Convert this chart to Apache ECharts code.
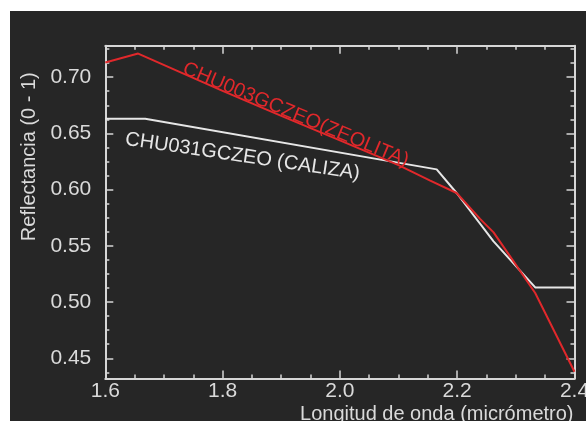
<!DOCTYPE html>
<html><head><meta charset="utf-8">
<script src="https://cdn.jsdelivr.net/npm/echarts@6/dist/echarts.min.js"></script>
<style>
html,body{margin:0;padding:0;background:#ffffff;width:586px;height:421px;overflow:hidden;}
#bg{position:absolute;left:10px;top:11px;width:576px;height:410px;background:#262626;}
#c{position:absolute;left:0;top:0;width:586px;height:421px;}
</style>
</head><body><div id="bg"></div><div id="c"></div>
<script>
// ---- data ----
const xTickValues = [1.6, 1.8, 2.0, 2.2, 2.4];
const yTickValues = [0.45, 0.50, 0.55, 0.60, 0.65, 0.70];
const yMinorTickValues = [0.4375, 0.4625, 0.475, 0.4875, 0.5125, 0.525, 0.5375, 0.5625, 0.575, 0.5875,
  0.6125, 0.625, 0.6375, 0.6625, 0.675, 0.6875, 0.7125, 0.725];

const zeolitaName = 'CHU003GCZEO(ZEOLITA)';
const zeolitaX = [1.600, 1.656, 1.799, 1.898, 1.999, 2.099, 2.154, 2.199, 2.239, 2.262, 2.299, 2.333, 2.400];
const zeolitaY = [0.713, 0.721, 0.688, 0.666, 0.644, 0.622, 0.608, 0.597, 0.574, 0.562, 0.534, 0.508, 0.438];

const calizaName = 'CHU031GCZEO (CALIZA)';
const calizaX = [1.600, 1.668, 2.165, 2.199, 2.262, 2.333, 2.400];
const calizaY = [0.663, 0.663, 0.618, 0.597, 0.554, 0.513, 0.513];

const xTitle = 'Longitud de onda (micrómetro)';
const yTitle = 'Reflectancia (0 - 1)';

// ---- styles ----
const axisColor = '#d6d6d6';
const textColor = '#dadada';
const red = '#e0282b';
const white = '#e6e6e6';
const font = 'Liberation Sans, Arial, sans-serif';
const yMin = 0.432, yMax = 0.728;

function pairs(xs, ys){ return xs.map((x,i)=>[x, ys[i]]); }

const chart = echarts.init(document.getElementById('c'), null, {renderer:'canvas'});

const xCommon = {
  type:'value', min:1.6, max:2.4, interval:0.2,
  axisLine:{show:true, lineStyle:{color:axisColor, width:2}},
  axisTick:{show:true, inside:true, length:8, lineStyle:{color:axisColor, width:1.5}},
  minorTick:{show:true, splitNumber:4, length:4, lineStyle:{color:axisColor, width:1.5}},
  splitLine:{show:false}, minorSplitLine:{show:false}
};
const yCommon = {
  type:'value', min:yMin, max:yMax,
  splitLine:{show:false}
};

chart.setOption({
  backgroundColor:'transparent',
  animation:false,
  grid:{left:105.3, top:45.7, right:11.5, bottom:42.5, containLabel:false, outerBoundsMode:'none'},
  xAxis:[
    Object.assign({}, xCommon, {position:'bottom',
      axisLabel:{show:true, color:textColor, fontSize:21, fontFamily:font, margin:2,
        customValues:xTickValues, formatter:v=>v.toFixed(1)}}),
    Object.assign({}, xCommon, {position:'top', axisLabel:{show:false}})
  ],
  yAxis:[
    Object.assign({}, yCommon, {position:'left',
      axisLine:{show:true, lineStyle:{color:axisColor, width:2}},
      axisTick:{show:true, inside:true, length:8, customValues:yTickValues, lineStyle:{color:axisColor, width:1.5}},
      axisLabel:{show:true, color:textColor, fontSize:21, fontFamily:font, margin:14,
        customValues:yTickValues, formatter:v=>v.toFixed(2)}}),
    Object.assign({}, yCommon, {position:'left',
      axisLine:{show:false},
      axisTick:{show:true, inside:true, length:4, customValues:yMinorTickValues, lineStyle:{color:axisColor, width:1.5}},
      axisLabel:{show:false}}),
    Object.assign({}, yCommon, {position:'right',
      axisLine:{show:true, lineStyle:{color:axisColor, width:2}},
      axisTick:{show:true, inside:true, length:8, customValues:yTickValues, lineStyle:{color:axisColor, width:1.5}},
      axisLabel:{show:false}}),
    Object.assign({}, yCommon, {position:'right',
      axisLine:{show:false},
      axisTick:{show:true, inside:true, length:4, customValues:yMinorTickValues, lineStyle:{color:axisColor, width:1.5}},
      axisLabel:{show:false}})
  ],
  series:[
    {name:calizaName, type:'line', xAxisIndex:0, yAxisIndex:0, data:pairs(calizaX, calizaY),
      symbol:'none', lineStyle:{color:white, width:2}, z:3},
    {name:zeolitaName, type:'line', xAxisIndex:0, yAxisIndex:0, data:pairs(zeolitaX, zeolitaY),
      symbol:'none', lineStyle:{color:red, width:2}, z:4}
  ],
  graphic:[
    {type:'text', x:295.8, y:114.8, rotation:-22.7*Math.PI/180, z:10,
      style:{text:zeolitaName, fill:red, font:'20px ' + font, align:'center', verticalAlign:'middle'}},
    {type:'text', x:242.5, y:156.5, rotation:-8.4*Math.PI/180, z:10,
      style:{text:calizaName, fill:white, font:'20px ' + font, align:'center', verticalAlign:'middle'}},
    {type:'text', x:29.5, y:156.7, rotation:Math.PI/2, z:10,
      style:{text:yTitle, fill:textColor, font:'20px ' + font, align:'center', verticalAlign:'middle'}},
    {type:'text', x:573.5, y:414.5, z:10,
      style:{text:xTitle, fill:textColor, font:'20px ' + font, align:'right', verticalAlign:'middle'}}
  ]
});
</script>
</body></html>
